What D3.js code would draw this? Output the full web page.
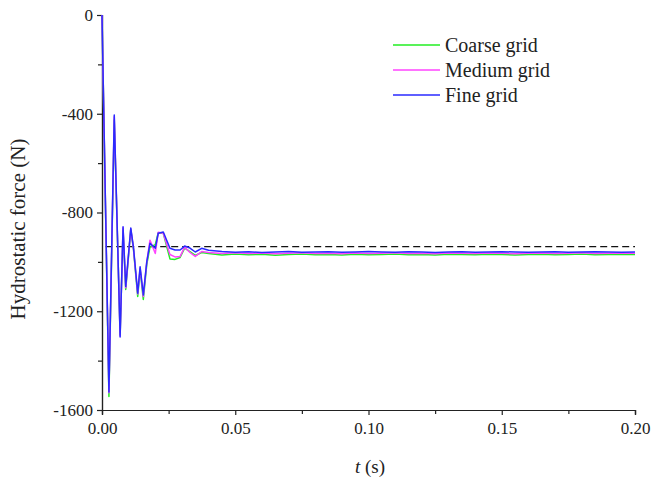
<!DOCTYPE html>
<html>
<head>
<meta charset="utf-8">
<script src="https://cdn.jsdelivr.net/npm/d3@7"></script>
<style>
  html, body { margin: 0; padding: 0; background: #fff; }
  svg text { font-family: "Liberation Serif", "Times New Roman", serif; fill: #222; }
</style>
</head>
<body>
<svg id="chart" width="651" height="481"></svg>
<script>
// Time samples (s)
const time = [0, 0.0026, 0.0046, 0.0068, 0.0079, 0.0089, 0.0108, 0.0118, 0.0134, 0.0143, 0.0155, 0.0168,
  0.018, 0.020, 0.0211, 0.023, 0.0255, 0.0274, 0.0293, 0.031, 0.033, 0.035, 0.0374, 0.040,
  0.045, 0.050, 0.055, 0.060, 0.065, 0.070, 0.075, 0.080, 0.085, 0.090, 0.095, 0.100,
  0.105, 0.110, 0.115, 0.120, 0.125, 0.130, 0.135, 0.140, 0.145, 0.150, 0.155, 0.160,
  0.165, 0.170, 0.175, 0.180, 0.185, 0.190, 0.195, 0.200];

// Hydrostatic force (N) for each grid resolution
const coarse = [0, -1545, -425, -1295, -872, -1112, -868, -948, -1140, -1032, -1152, -1010,
  -940, -930, -882, -884, -988, -990, -982, -944, -958, -974, -962, -966,
  -972, -968, -971, -969, -973, -970, -968, -971, -970, -972, -969, -971,
  -970, -968, -971, -970, -972, -969, -970, -971, -969, -970, -972, -970,
  -969, -971, -970, -968, -971, -970, -969, -970];
const medium = [0, -1530, -412, -1300, -862, -1105, -866, -945, -1130, -1025, -1140, -1000,
  -912, -966, -880, -884, -970, -980, -978, -940, -962, -978, -958, -962,
  -966, -963, -966, -964, -967, -965, -963, -966, -965, -967, -964, -966,
  -965, -963, -966, -965, -967, -964, -965, -966, -964, -965, -967, -965,
  -964, -966, -965, -963, -966, -965, -964, -965];
const fine = [0, -1527, -405, -1304, -858, -1100, -863, -940, -1127, -1020, -1134, -1000,
  -925, -945, -884, -879, -945, -952, -952, -936, -944, -960, -945, -953,
  -958, -961, -959, -962, -960, -958, -961, -960, -959, -961, -960, -958,
  -960, -961, -959, -960, -962, -960, -959, -961, -960, -959, -960, -961,
  -960, -959, -961, -960, -959, -960, -961, -960];

// Reference (static weight) level
const referenceForce = [-938];

const seriesNames = ["Coarse grid", "Medium grid", "Fine grid"];
const seriesColors = ["#22ee22", "#ff44ff", "#2a2aff"];
const seriesValues = [coarse, medium, fine];

const xTicks = [0, 0.05, 0.10, 0.15, 0.20];
const yTicks = [0, -400, -800, -1200, -1600];

const svg = d3.select("#chart");
const margin = { left: 102, right: 16, top: 15, bottom: 71 };
const W = 651, H = 481;

const x = d3.scaleLinear().domain([0, 0.2]).range([margin.left, W - margin.right]);
const y = d3.scaleLinear().domain([-1600, 0]).range([H - margin.bottom, margin.top]);

// Axes (plain hyphen for negative labels)
const xAxis = d3.axisBottom(x).tickValues(xTicks).tickFormat(d3.format(".2f")).tickSize(5).tickPadding(7);
const xMinor = d3.axisBottom(x).tickValues(d3.range(0.025, 0.2, 0.05)).tickFormat("").tickSize(4);
const yAxis = d3.axisLeft(y).tickValues(yTicks).tickFormat(d => String(d)).tickSize(5).tickPadding(4);
const yMinor = d3.axisLeft(y).tickValues(d3.range(-200, -1600, -400)).tickFormat("").tickSize(4);

function styleAxis(g) {
  g.select(".domain").attr("stroke", "#222").attr("stroke-width", 1.2);
  g.selectAll(".tick line").attr("stroke", "#222").attr("stroke-width", 1.2);
  g.selectAll("text").attr("font-size", 17).attr("fill", "#222")
    .attr("font-family", "Liberation Serif, Times New Roman, serif");
}

svg.append("g").attr("transform", `translate(0,${y(-1600)})`).call(xAxis).call(styleAxis);
svg.append("g").attr("transform", `translate(0,${y(-1600)})`).call(xMinor).call(styleAxis);
svg.append("g").attr("transform", `translate(${x(0)},0)`).call(yAxis).call(styleAxis);
svg.append("g").attr("transform", `translate(${x(0)},0)`).call(yMinor).call(styleAxis);

// Reference dashed line
svg.append("line")
  .attr("x1", x(0.0012)).attr("x2", x(0.2))
  .attr("y1", y(referenceForce[0])).attr("y2", y(referenceForce[0]))
  .attr("stroke", "#111").attr("stroke-width", 1.3).attr("stroke-dasharray", "7,4");

// Series lines
const line = d3.line().x((d, i) => x(time[i])).y(d => y(d));
seriesValues.forEach((vals, k) => {
  svg.append("path")
    .datum(vals)
    .attr("fill", "none")
    .attr("stroke", seriesColors[k])
    .attr("stroke-width", 1.5)
    .attr("stroke-linejoin", "round")
    .attr("d", line);
});

// Legend
const legend = svg.append("g").attr("transform", "translate(393,45)");
seriesNames.forEach((name, k) => {
  const row = legend.append("g").attr("transform", `translate(0,${k * 25})`);
  row.append("line").attr("x1", 0).attr("x2", 47).attr("y1", 0).attr("y2", 0)
    .attr("stroke", seriesColors[k]).attr("stroke-width", 1.5);
  row.append("text").attr("x", 52).attr("y", 7).attr("font-size", 20).text(name);
});

// Axis titles
svg.append("text")
  .attr("transform", "translate(25,229) rotate(-90)")
  .attr("text-anchor", "middle").attr("font-size", 21)
  .text("Hydrostatic force (N)");

const xt = svg.append("text")
  .attr("x", 370).attr("y", 473)
  .attr("text-anchor", "middle").attr("font-size", 19);
xt.append("tspan").attr("font-style", "italic").text("t");
xt.append("tspan").text(" (s)");
</script>
</body>
</html>
